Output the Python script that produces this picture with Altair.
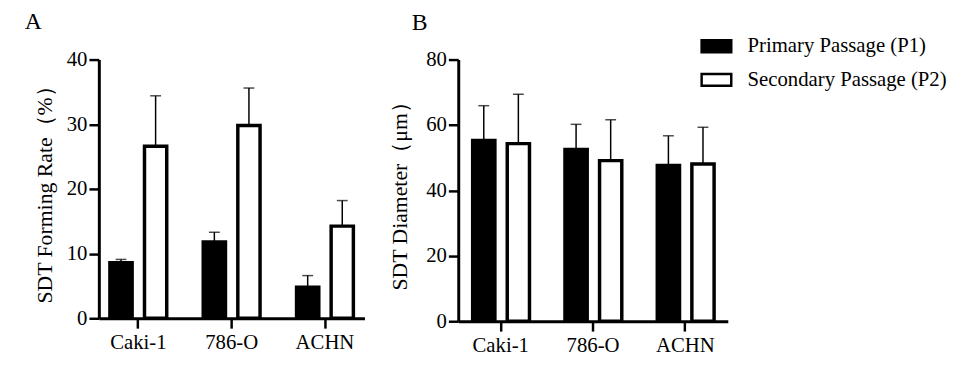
import altair as alt
import pandas as pd

cells = ["Caki-1", "786-O", "ACHN"]
groups = ["Primary Passage (P1)", "Secondary Passage (P2)"]

rate_p1 = [8.6, 11.8, 4.8]
rate_p1_sd = [0.5, 1.5, 1.8]
rate_p2 = [26.6, 29.8, 14.25]
rate_p2_sd = [7.8, 5.8, 3.95]

diam_p1 = [55.3, 52.5, 47.6]
diam_p1_sd = [10.6, 7.7, 9.1]
diam_p2 = [54.3, 49.1, 48.1]
diam_p2_sd = [15.1, 12.5, 11.2]


def frame(p1, p1sd, p2, p2sd):
    rows = []
    for i, c in enumerate(cells):
        rows.append({"cell": c, "group": groups[0], "value": p1[i], "upper": p1[i] + p1sd[i]})
        rows.append({"cell": c, "group": groups[1], "value": p2[i], "upper": p2[i] + p2sd[i]})
    return pd.DataFrame(rows)


FONT = "Liberation Serif"


def panel(df, ytitle, ymax, yticks, width, height, label, label_dx, label_offset,
          pi, po, pi2, po2, title_pad, legend):
    x = alt.X("cell:N", sort=cells, title=None,
              scale=alt.Scale(paddingInner=pi, paddingOuter=po),
              axis=alt.Axis(labelAngle=0, labelPadding=4))
    xo = alt.XOffset("group:N", sort=groups,
                     scale=alt.Scale(paddingInner=pi2, paddingOuter=po2))
    fill = alt.Fill("group:N", sort=groups, title=None,
                    scale=alt.Scale(domain=groups, range=["#000000", "#ffffff"]),
                    legend=legend)
    y = alt.Y("value:Q", title=ytitle,
              scale=alt.Scale(domain=[0, ymax], nice=False),
              axis=alt.Axis(values=yticks, titlePadding=title_pad))
    bars = alt.Chart(df).mark_bar(stroke="black", strokeWidth=3.5).encode(
        x=x, xOffset=xo, y=y, fill=fill)
    rules = alt.Chart(df).mark_rule(color="black", strokeWidth=1.5).encode(
        x=x, xOffset=xo, y="value:Q", y2="upper:Q")
    caps = alt.Chart(df).mark_tick(color="black", thickness=1.5, size=11).encode(
        x=x, xOffset=xo, y="upper:Q")
    return alt.layer(rules, caps, bars).properties(
        width=width, height=height,
        title=alt.TitleParams(label, anchor="start", frame="group", dx=label_dx,
                              font=FONT, fontSize=24, fontWeight="normal",
                              color="black", offset=label_offset))


legend_b = alt.Legend(
    orient="none", legendX=245, legendY=-30, padding=0,
    symbolType="M-1,-0.4H1V0.4H-1Z", symbolSize=900,
    symbolStrokeColor="black", symbolStrokeWidth=2.5,
    labelFont=FONT, labelFontSize=21, labelColor="black", labelLimit=0,
    labelOffset=15, rowPadding=6)

chart_a = panel(frame(rate_p1, rate_p1_sd, rate_p2, rate_p2_sd),
                "SDT Forming Rate（%）", 40, [0, 10, 20, 30, 40],
                269, 262, "A", -75, 15, 0.3, 0.073, 0.357, 0.123, 10, None)
chart_b = panel(frame(diam_p1, diam_p1_sd, diam_p2, diam_p2_sd),
                "SDT Diameter（μm）", 80, [0, 20, 40, 60, 80],
                273, 265, "B", -47, -5, 0.3, 0.11, 0.36, 0.09, 14, legend_b)

chart = alt.hconcat(chart_a, chart_b, spacing=25).resolve_legend(
    fill="independent").resolve_scale(fill="independent").properties(
    padding={"left": 17, "top": 0, "right": 0, "bottom": 0}
).configure_view(stroke=None).configure_axis(
    domainColor="black", domainWidth=3, tickColor="black", tickWidth=2.5,
    tickSize=10, grid=False, labelFont=FONT, labelFontSize=21,
    labelColor="black", titleFont=FONT, titleFontSize=22,
    titleFontWeight="normal", titleColor="black")

chart.save("out.html", embed_options={"renderer": "svg", "actions": False})
